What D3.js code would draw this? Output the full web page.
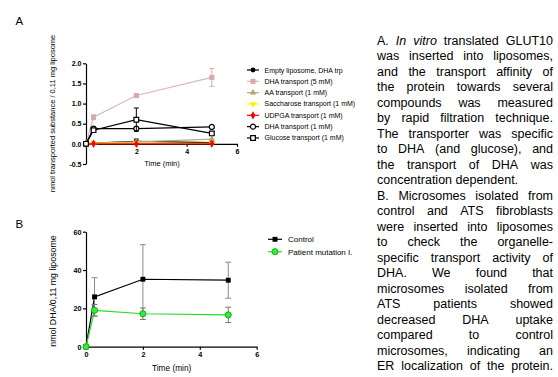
<!DOCTYPE html>
<html><head><meta charset="utf-8">
<script src="https://cdn.jsdelivr.net/npm/d3@7"></script>
<style>
body{margin:0;background:#fff}
svg{display:block}
text{font-family:"Liberation Sans",Arial,Helvetica,sans-serif}
</style>
</head><body>
<svg id="c" width="558" height="377"></svg>
<script>
// ---------- Panel A data ----------
const timesA = [0, 0.3, 2, 5];
const namesA = ["Empty liposome, DHA trp","DHA transport (5 mM)","AA transport (1 mM)","Saccharose transport (1 mM)","UDPGA transport (1 mM)","DHA transport (1 mM)","Glucose transport (1 mM)"];
const emptyLiposome    = [0, 0.02, 0.06, 0.03];
const emptyLiposomeErr = [0, 0.01, 0.06, 0.01];
const dha5mM           = [0, 0.66, 1.2, 1.65];
const dha5mMErr        = [0, 0.06, 0.02, 0.22];
const aa1mM            = [0, 0.02, 0.05, 0.12];
const aa1mMErr         = [0, 0, 0, 0];
const saccharose1mM    = [0, 0.01, 0.015, 0.015];
const saccharose1mMErr = [0, 0, 0, 0];
const udpga1mM         = [0, 0, 0, 0];
const udpga1mMErr      = [0, 0, 0, 0];
const dha1mM           = [0, 0.38, 0.38, 0.42];
const dha1mMErr        = [0, 0.02, 0.02, 0.02];
const glucose1mM       = [0, 0.34, 0.6, 0.26];
const glucose1mMErr    = [0, 0.03, 0.29, 0.03];
const xTicksA = [2, 4, 6];
const xTickLabelsA = ["2", "4", "6"];
const yTicksA = [-0.5, 0, 0.5, 1, 1.5, 2];
const yTickLabelsA = ["-0.5", "0.0", "0.5", "1.0", "1.5", "2.0"];

// ---------- Panel B data ----------
const timesB = [0, 0.3, 2, 5];
const namesB = ["Control", "Patient mutation I."];
const control    = [0, 26, 35.2, 34.7];
const controlErr = [0, 10, 18, 9.4];
const patient    = [0, 19, 17.2, 16.6];
const patientErr = [0, 3, 3, 4];
const xTicksB = [0, 2, 4, 6];
const xTickLabelsB = ["0", "2", "4", "6"];
const yTicksB = [0, 20, 40, 60];
const yTickLabelsB = ["0", "20", "40", "60"];

// ---------- Caption ----------
const captionLines = [
 "A. *In *vitro translated GLUT10",
 "was inserted into liposomes,",
 "and the transport affinity of",
 "the protein towards several",
 "compounds was measured",
 "by rapid filtration technique.",
 "The transporter was specific",
 "to DHA (and glucose), and",
 "the transport of DHA was",
 "concentration dependent.",
 "B. Microsomes isolated from",
 "control and ATS fibroblasts",
 "were inserted into liposomes",
 "to check the organelle-",
 "specific transport activity of",
 "DHA. We found that",
 "microsomes isolated from",
 "ATS patients showed",
 "decreased DHA uptake",
 "compared to control",
 "microsomes, indicating an",
 "ER localization of the protein."
];
const unjustifiedLines = [9];

const svg = d3.select("#c");
svg.append("rect").attr("width",558).attr("height",377).attr("fill","#fff");

function styleAxis(g, fs){
  g.attr("font-family",null).attr("font-size",null);
  g.select(".domain").attr("stroke","#000").attr("stroke-width",1.2);
  g.selectAll(".tick line").attr("stroke","#000").attr("stroke-width",1.2);
  g.selectAll(".tick text").attr("fill","#000").style("font-size",fs+"px").style("font-weight","bold");
}

function drawSeries(g, x, y, times, vals, errs, opt){
  const line = d3.line().x((d,i)=>x(times[i])).y(d=>y(d));
  g.append("path").datum(vals).attr("fill","none").attr("stroke",opt.line).attr("stroke-width",opt.lw||1.2).attr("d",line);
  const eg = g.append("g").attr("stroke",opt.err||opt.line).attr("stroke-width",1);
  vals.forEach((v,i)=>{
    const e = errs[i]; if(!e) return;
    const cx = x(times[i]), cw = opt.cap||2.5;
    eg.append("line").attr("x1",cx).attr("x2",cx).attr("y1",y(v-e)).attr("y2",y(v+e));
    eg.append("line").attr("x1",cx-cw).attr("x2",cx+cw).attr("y1",y(v-e)).attr("y2",y(v-e));
    eg.append("line").attr("x1",cx-cw).attr("x2",cx+cw).attr("y1",y(v+e)).attr("y2",y(v+e));
  });
  const sym = d3.symbol().type(opt.type).size(opt.size);
  g.selectAll(null).data(vals).join("path")
    .attr("d",sym)
    .attr("transform",(d,i)=>`translate(${x(times[i])},${y(d)})${opt.rot?" rotate(180)":""}`)
    .attr("fill",opt.fill).attr("stroke",opt.stroke||"none").attr("stroke-width",opt.sw||1.2);
}

// ================= Panel A =================
const xA = d3.scaleLinear().domain([0,6]).range([86,237]);
const yA = d3.scaleLinear().domain([-0.5,2]).range([164,63.3]);

svg.append("text").attr("x",15.5).attr("y",25).style("font-size","11.5px").text("A");

const gA = svg.append("g");
const yAxA = gA.append("g").attr("transform","translate(86,0)")
  .call(d3.axisLeft(yA).tickValues(yTicksA).tickFormat((d,i)=>yTickLabelsA[i]).tickSize(3).tickPadding(1.5).tickSizeOuter(0));
styleAxis(yAxA,7);
const xAxA = gA.append("g").attr("transform",`translate(0,${yA(0)})`)
  .call(d3.axisBottom(xA).tickValues(xTicksA).tickFormat((d,i)=>xTickLabelsA[i]).tickSize(3).tickPadding(2).tickSizeOuter(0));
styleAxis(xAxA,7);

const seriesA = [
  {v:emptyLiposome, e:emptyLiposomeErr, line:"#000", fill:"#000", type:d3.symbolCircle, size:18},
  {v:dha5mM, e:dha5mMErr, line:"#dcb8b8", fill:"#d9aaac", err:"#d9aaac", type:d3.symbolSquare, size:26},
  {v:aa1mM, e:aa1mMErr, line:"#b9ab7c", fill:"#b3a472", type:d3.symbolTriangle, size:18},
  {v:saccharose1mM, e:saccharose1mMErr, line:"#ffff00", fill:"#f5f500", type:d3.symbolTriangle, size:18, rot:true},
  {v:udpga1mM, e:udpga1mMErr, line:"#ff0000", fill:"#ff0000", type:d3.symbolDiamond, size:20},
  {v:dha1mM, e:dha1mMErr, line:"#000", fill:"#fff", stroke:"#000", type:d3.symbolCircle, size:20},
  {v:glucose1mM, e:glucose1mMErr, line:"#000", fill:"#fff", stroke:"#000", type:d3.symbolSquare, size:22}
];
const plotA = gA.append("g");
seriesA.forEach(s=>drawSeries(plotA.append("g"), xA, yA, timesA, s.v, s.e, {...s, cap:2.5}));

svg.append("text").attr("x",162).attr("y",165.8).attr("text-anchor","middle").style("font-size","7.5px").text("Time (min)");
svg.append("text").attr("transform","translate(54.8,113.5) rotate(-90)").attr("text-anchor","middle").style("font-size","7.5px")
  .text("nmol transported substance / 0,11 mg liposome");

// legend A
const legA = svg.append("g");
seriesA.forEach((s,i)=>{
  const ly = 70 + i*11.33;
  legA.append("line").attr("x1",247).attr("x2",259).attr("y1",ly).attr("y2",ly).attr("stroke",s.line).attr("stroke-width",1.2);
  legA.append("path").attr("d",d3.symbol().type(s.type).size(s.size)())
    .attr("transform",`translate(253,${ly})${s.rot?" rotate(180)":""}`)
    .attr("fill",s.fill).attr("stroke",s.stroke||"none").attr("stroke-width",1.2);
  legA.append("text").attr("x",264.5).attr("y",ly+2.5).style("font-size","7px").text(namesA[i]);
});

// ================= Panel B =================
const xB = d3.scaleLinear().domain([0,6]).range([86,256.7]);
const yB = d3.scaleLinear().domain([0,60]).range([346.7,231.7]);

svg.append("text").attr("x",15.5).attr("y",227.5).style("font-size","11.5px").text("B");

const gB = svg.append("g");
const yAxB = gB.append("g").attr("transform","translate(86,0)")
  .call(d3.axisLeft(yB).tickValues(yTicksB).tickFormat((d,i)=>yTickLabelsB[i]).tickSize(3).tickPadding(1.5).tickSizeOuter(0));
styleAxis(yAxB,7.2);
const xAxB = gB.append("g").attr("transform",`translate(0,${yB(0)})`)
  .call(d3.axisBottom(xB).tickValues(xTicksB).tickFormat((d,i)=>xTickLabelsB[i]).tickSize(3).tickPadding(2.5).tickSizeOuter(0));
styleAxis(xAxB,7.2);

const seriesB = [
  {v:control, e:controlErr, line:"#000", err:"#8a8a8a", fill:"#000", type:d3.symbolSquare, size:24},
  {v:patient, e:patientErr, line:"#22dd22", err:"#777", fill:"#33ee33", stroke:"#0a9a0a", sw:0.8, type:d3.symbolCircle, size:30}
];
const plotB = gB.append("g");
seriesB.forEach(s=>drawSeries(plotB.append("g"), xB, yB, timesB, s.v, s.e, {...s, cap:3}));

svg.append("text").attr("x",171.7).attr("y",371).attr("text-anchor","middle").style("font-size","8.3px").text("Time (min)");
svg.append("text").attr("transform","translate(56,291) rotate(-90)").attr("text-anchor","middle").style("font-size","8.8px")
  .text("nmol DHA/0,11 mg liposome");

const legB = svg.append("g");
seriesB.forEach((s,i)=>{
  const ly = 239.3 + i*12.4;
  legB.append("line").attr("x1",268).attr("x2",282).attr("y1",ly).attr("y2",ly).attr("stroke",s.line).attr("stroke-width",1.2);
  legB.append("path").attr("d",d3.symbol().type(s.type).size(s.size)())
    .attr("transform",`translate(275,${ly})`)
    .attr("fill",s.fill).attr("stroke",s.stroke||"none").attr("stroke-width",s.sw||1.2);
  legB.append("text").attr("x",288).attr("y",ly+2.9).style("font-size","8px").text(namesB[i]);
});

// ================= Caption (justified) =================
const capG = svg.append("g");
const cx0 = 377, cx1 = 553, capFs = 12.5;
captionLines.forEach((ln,i)=>{
  const words = ln.split(" ");
  const y = 44.5 + i*15.5;
  const nodes = words.map(w=>{
    const it = w.startsWith("*");
    const t = capG.append("text").attr("y",y).style("font-size",capFs+"px").attr("fill","#000").text(it?w.slice(1):w);
    if(it) t.style("font-style","italic");
    return t;
  });
  const widths = nodes.map(n=>n.node().getComputedTextLength());
  const total = d3.sum(widths);
  const justify = !unjustifiedLines.includes(i) && words.length>1;
  const gap = justify ? (cx1-cx0-total)/(words.length-1) : capFs*0.278;
  let x = cx0;
  nodes.forEach((n,k)=>{ n.attr("x",x); x += widths[k]+gap; });
});
</script>
</body></html>
